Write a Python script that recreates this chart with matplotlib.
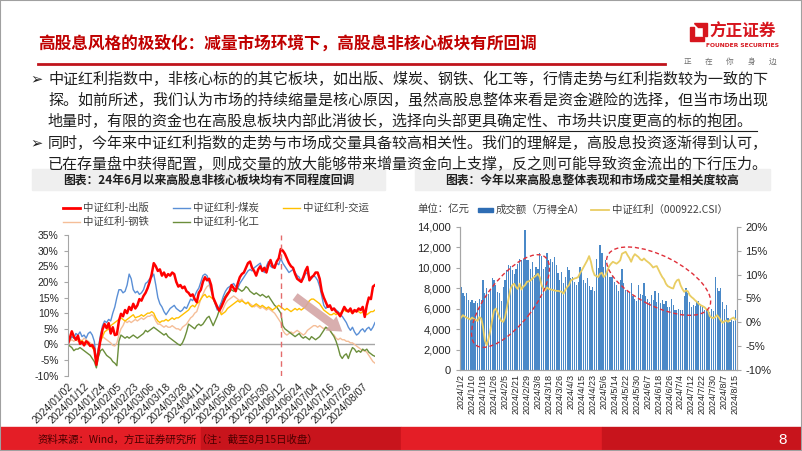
import numpy as np
import pandas as pd
import matplotlib
matplotlib.use('Agg')
import matplotlib.pyplot as plt
from matplotlib.lines import Line2D
from matplotlib.patches import Rectangle, Ellipse, Polygon
from matplotlib.transforms import IdentityTransform
from matplotlib.ticker import FuncFormatter

plt.rcParams['font.family'] = ['Noto Sans CJK SC', 'DejaVu Sans']
plt.rcParams['axes.unicode_minus'] = False

# ---- 数据 ----
holidays = ['2024-01-01', '2024-02-09', '2024-02-12', '2024-02-13', '2024-02-14',
            '2024-02-15', '2024-02-16', '2024-04-04', '2024-04-05', '2024-05-01',
            '2024-05-02', '2024-05-03', '2024-06-10']
days = [d for d in pd.bdate_range('2024-01-02', '2024-08-15')
        if d.strftime('%Y-%m-%d') not in holidays]

sector_names = ['出版', '煤炭', '交运', '钢铁', '化工']

# 中证红利-出版 (%)
publish = [
    0.0, 2.0, 4.2, 2.5, 1.5, 2.8, 0.2, 0.8, -0.3, 1.0,
    0.5, -0.5, -0.2, -1.5, -6.5, -2.5, 1.5, 4.8, 6.5, 5.2,
    6.8, 3.5, 5.5, 3.0, 3.2, 7.5, 9.8, 9.0, 11.0, 10.0,
    12.0, 11.0, 13.0, 11.5, 12.5, 14.5, 14.0, 15.5, 16.5, 18.0,
    20.0, 22.5, 26.0, 25.0, 23.5, 24.0, 22.0, 23.0, 21.5, 22.5,
    22.0, 23.0, 22.5, 20.0, 18.5, 19.0, 18.0, 18.5, 17.0, 16.5,
    15.5, 16.0, 14.5, 13.5, 16.5, 17.5, 20.0, 21.5, 20.5, 21.0,
    19.0, 15.0, 13.5, 12.0, 10.8, 12.0, 13.5, 15.0, 16.0, 17.0,
    19.0, 18.0, 17.0, 19.5, 21.5, 22.5, 23.0, 24.5, 26.0, 26.5,
    24.5, 23.5, 22.0, 24.0, 25.0, 23.5, 24.5, 23.0, 25.5, 27.0,
    25.0, 24.5, 26.5, 27.5, 30.5, 30.0, 29.0, 27.5, 26.0, 25.0,
    24.5, 22.5, 21.0, 20.5, 20.0, 21.5, 23.5, 24.8, 20.5, 21.5,
    22.0, 23.0, 23.0, 21.0, 17.0, 15.0, 13.5, 12.0, 12.5, 11.0,
    11.5, 10.5, 10.0, 9.0, 10.5, 12.0, 11.0, 10.5, 11.5, 10.0,
    11.0, 10.5, 11.5, 11.0, 12.0, 8.8, 12.5, 15.0, 14.5, 18.5,
    19.0]

# 中证红利-煤炭 (%)
coal = [
    0.0, 1.5, 2.5, 2.0, 3.5, 3.0, 4.0, 2.5, 3.0, 2.0,
    3.5, 4.0, 3.0, 1.0, -5.5, -1.0, 3.0, 6.0, 7.5, 7.0,
    8.0, 7.5, 10.0, 12.0, 15.0, 17.5, 17.5, 16.5, 17.0, 19.0,
    22.5, 21.0, 17.5, 16.5, 17.0, 16.0, 16.5, 17.5, 19.5, 20.0,
    21.0, 21.5, 22.5, 19.0, 15.0, 13.0, 12.0, 10.5, 9.5, 10.5,
    11.5, 12.0, 12.5, 11.5, 11.0, 10.5, 11.0, 12.0, 11.5, 13.0,
    14.5, 14.0, 15.5, 17.0, 18.0, 20.0, 22.0, 22.5, 22.0, 20.0,
    17.5, 15.0, 13.0, 11.0, 12.0, 13.5, 15.5, 17.0, 18.0, 18.5,
    19.0, 19.5, 18.5, 18.0, 19.5, 20.5, 21.5, 22.5, 23.5, 24.0,
    23.5, 24.5, 25.0, 25.5, 26.0, 24.0, 23.0, 25.0, 26.5, 25.0,
    24.5, 25.5, 26.0, 25.5, 27.5, 26.0, 25.0, 24.0, 23.0, 23.5,
    24.0, 23.0, 22.0, 21.5, 20.0, 21.0, 22.5, 23.0, 21.0, 21.0,
    22.0, 21.5, 20.5, 18.5, 15.5, 12.5, 11.5, 12.5, 12.0, 11.5,
    11.5, 11.0, 10.5, 9.5, 9.0, 8.0, 7.0, 5.5, 4.5, 5.5,
    4.0, 3.0, 3.5, 4.5, 5.0, 4.0, 5.0, 5.5, 4.5, 5.5,
    7.0]

# 中证红利-交运 (%)
transport = [
    0.0, 1.5, 2.5, 2.0, 1.8, 1.5, 1.0, 1.2, 0.5, 0.8,
    0.0, -0.3, -1.0, -2.0, -5.0, -1.5, 1.0, 2.5, 4.0, 4.5,
    5.0, 6.0, 6.5, 7.0, 7.5, 8.0, 8.5, 8.0, 7.5, 8.0,
    8.5, 9.0, 9.5, 8.5, 8.8, 9.0, 9.5, 9.0, 9.5, 10.0,
    10.0, 10.5, 10.0, 8.5, 7.5, 7.0, 7.5, 7.5, 8.0, 7.5,
    8.0, 8.5, 8.0, 8.5, 8.5, 9.0, 9.5, 10.0, 10.5, 11.0,
    12.0, 12.5, 12.0, 13.0, 13.5, 14.5, 15.5, 16.0, 15.0, 15.5,
    15.0, 14.5, 13.0, 12.0, 11.0, 9.5, 10.0, 10.5, 11.5, 12.0,
    12.5, 13.0, 13.5, 14.0, 13.5, 14.0, 13.5, 13.0, 13.5, 12.5,
    12.0, 12.5, 13.0, 12.5, 12.0, 12.5, 12.0, 11.5, 12.0, 11.5,
    11.0, 11.5, 12.0, 12.5, 12.0, 11.5, 11.0, 11.5, 11.0, 10.5,
    11.0, 11.5, 11.0, 11.5, 11.0, 11.5, 12.0, 13.0, 14.0, 14.5,
    14.5, 14.0, 13.5, 13.0, 12.0, 11.0, 10.5, 10.0, 9.5, 9.5,
    10.0, 9.5, 10.0, 10.0, 10.5, 11.0, 10.5, 11.0, 10.5, 10.0,
    10.5, 11.0, 10.5, 10.0, 10.5, 10.0, 9.5, 10.0, 10.5, 10.5,
    11.0]

# 中证红利-钢铁 (%)
steel = [
    0.0, 1.0, 1.5, 1.0, 1.5, 1.0, 1.5, 1.2, 2.0, 1.5,
    1.0, 0.5, 0.0, -1.5, -6.0, -1.0, 1.0, 2.5, 2.0, 1.5,
    1.0, 0.5, -0.3, -0.5, 0.5, 3.0, 5.0, 6.0, 7.5, 7.0,
    7.5, 7.0, 7.5, 8.0, 7.5, 8.0, 8.5, 8.0, 8.5, 9.0,
    9.0, 9.5, 9.0, 7.5, 6.5, 6.5, 6.0, 5.5, 6.0, 5.5,
    5.5, 6.0, 5.5, 5.0, 5.0, 4.5, 5.5, 6.0, 6.5, 7.5,
    8.5, 9.0, 10.0, 10.5, 12.5, 14.5, 16.0, 17.5, 18.5, 19.0,
    17.0, 15.0, 13.5, 12.0, 10.5, 10.0, 11.5, 13.0, 14.0, 14.5,
    15.0, 15.5, 15.0, 14.5, 14.0, 14.5, 13.5, 13.0, 13.5, 13.0,
    12.5, 12.0, 12.5, 12.0, 11.5, 12.0, 11.5, 11.0, 11.5, 11.0,
    10.5, 10.0, 9.0, 8.0, 7.0, 4.5, 3.5, 3.0, 3.5, 4.0,
    3.5, 4.0, 4.5, 4.0, 3.5, 3.0, 3.5, 4.5, 5.0, 5.5,
    6.0, 6.0, 5.5, 6.0, 5.5, 5.0, 5.5, 5.0, 4.5, 3.5,
    3.0, 2.0, 1.5, 2.0, 1.5, 1.5, 1.0, 1.0, 0.5, 0.5,
    0.0, -0.5, -1.0, -1.5, -2.0, -2.0, -2.5, -3.5, -4.5, -5.5,
    -6.0]

# 中证红利-化工 (%)
chem = [
    0.0, -0.5, -1.0, -2.0, -1.5, -1.5, -1.0, -1.5, -2.0, -2.5,
    -3.0, -3.5, -4.5, -5.5, -7.5, -4.0, -2.0, -1.5, -2.5, -3.5,
    -4.0, -4.5, -5.5, -6.0, -6.8, 1.0, 3.0, 2.5, 2.0, 2.5,
    2.0, 2.5, 3.0, 2.5, 2.0, 2.5, 3.0, 3.5, 4.5, 4.0,
    4.5, 5.0, 5.5, 5.0, 4.5, 4.0, 3.5, 3.0, 3.5, 2.5,
    2.0, 1.5, 1.0, 0.5, 0.0, -0.3, 0.5, 2.0, 4.0, 6.5,
    6.0, 5.5, 5.0, 6.0, 6.5, 6.0, 6.5, 7.5, 8.5, 9.0,
    7.5, 6.0, 7.5, 9.0, 11.0, 13.0, 14.5, 15.5, 16.5, 17.0,
    17.5, 17.0, 17.5, 18.0, 17.5, 17.0, 17.5, 18.5, 18.0, 17.0,
    16.5, 16.0, 16.5, 16.0, 15.5, 16.0, 15.5, 15.0, 15.5, 14.5,
    13.5, 12.5, 12.0, 11.0, 10.0, 6.0, 5.0, 4.5, 4.0, 3.5,
    3.0, 2.5, 3.0, 3.5, 2.5, 2.0, 2.5, 2.0, 1.5, 2.5,
    2.0, 1.5, 2.0, 2.5, 3.5, 4.5, 5.5, 5.0, 4.5, 3.5,
    2.5, 1.0, -1.0, -3.5, -4.5, -3.5, -3.0, -4.5, -2.5, -1.0,
    -1.5, -2.5, -2.0, -2.5, -1.5, -2.0, -1.5, -2.5, -3.0, -3.5,
    -3.8]

# 成交额（万得全A），亿元
turnover = [
    8100, 7500, 7200, 7500, 6900, 6700, 6900, 6600, 6800, 6600,
    7000, 6900, 8800, 7500, 8000, 7400, 7900, 9000, 8800, 8300,
    7600, 7500, 6800, 8100, 8800, 9800, 10300, 10200, 9800, 9400,
    9900, 10400, 10900, 10800, 10900, 13700, 10800, 10800, 9900, 10600,
    9300, 10100, 9900, 11500, 11200, 9900, 10100, 11500, 10800, 10900,
    10600, 11100, 10300, 9500, 8800, 9600, 8500, 9100, 10100, 9800,
    9000, 9100, 8600, 8300, 8600, 10100, 9600, 8800, 8500, 9000,
    8200, 7800, 8100, 7700, 10900, 10000, 12200, 11500, 10100, 10800,
    9800, 9100, 9100, 9200, 8600, 8300, 7700, 8800, 9900, 8500,
    7800, 7700, 7600, 8500, 7200, 7000, 6800, 8300, 7400, 7300,
    8500, 7200, 7000, 6700, 7300, 6900, 7700, 6700, 7500, 6600,
    6900, 6500, 6800, 6200, 6200, 7000, 6400, 5900, 5900, 6000,
    5900, 5900, 7200, 8000, 7500, 6700, 6200, 6400, 6300, 6700,
    6800, 6400, 6200, 5900, 5900, 5900, 5700, 6000, 5800, 9100,
    8000, 7700, 8000, 6700, 6000, 6400, 5100, 4700, 4900, 4800,
    5900]

# 中证红利（000922.CSI）涨跌幅 (%)
csi_div = [
    1.0, 1.5, 1.2, 1.0, 0.8, 0.6, 1.0, 0.7, 0.5, 0.3,
    1.1, 0.8, -1.0, -3.8, -4.8, -3.5, -1.7, 0.5, 2.5, 2.9,
    2.0, 1.0, 0.3, 0.1, 1.0, 3.0, 5.0, 7.0, 7.8, 8.1,
    7.4, 7.0, 8.1, 6.9, 7.5, 7.8, 8.5, 8.6, 8.8, 9.2,
    9.5, 9.8, 10.2, 9.5, 7.8, 7.0, 6.7, 7.3, 7.0, 6.9,
    6.8, 6.7, 6.6, 6.6, 6.5, 6.4, 6.0, 6.8, 7.4, 7.8,
    8.8, 9.0, 9.2, 9.3, 9.5, 10.3, 10.9, 11.6, 12.3, 13.0,
    13.9, 12.7, 10.9, 9.9, 9.7, 9.5, 10.2, 10.4, 9.5, 9.9,
    10.9, 11.8, 12.3, 12.7, 12.5, 12.3, 12.6, 13.0, 14.4, 14.6,
    14.8, 14.1, 13.5, 12.7, 13.7, 14.3, 14.0, 13.7, 13.2, 13.0,
    13.4, 13.0, 12.7, 12.4, 12.0, 11.5, 11.7, 11.8, 11.0, 10.2,
    9.5, 9.0, 8.1, 7.6, 7.4, 7.2, 7.1, 8.2, 8.8, 9.0,
    7.8, 7.0, 6.4, 6.7, 6.5, 5.7, 5.3, 5.0, 4.6, 4.3,
    3.9, 3.6, 3.4, 3.2, 2.8, 2.5, 1.3, 1.0, 0.9, 1.1,
    1.5, 1.0, 0.4, -0.1, 0.2, 0.4, 0.1, 0.5, 0.8, 1.0,
    0.6]

# ---- 画布 ----
W, H = 802, 451
fig = plt.figure(figsize=(W / 100, H / 100), dpi=100)
fig.patch.set_facecolor('white')


def rect(x0, y0, x1, y1):
    return [x0 / W, 1 - y1 / H, (x1 - x0) / W, (y1 - y0) / H]


def T(x, y, s, **kw):
    return fig.text(x / W, 1 - y / H, s, **kw)


NUM = ['Liberation Sans', 'DejaVu Sans']
RED = '#FF0000'
BLUE = '#5A8FD6'
YEL = '#FFC000'
PEACH = '#F5BE98'
GREEN = '#6B8E3B'

# 标题
T(38, 45, '高股息风格的极致化：减量市场环境下，高股息非核心板块有所回调',
  fontsize=12, color='#C00000', fontweight='bold', va='center')
fig.add_artist(Line2D([38 / W, 665 / W], [1 - 64 / H] * 2, color='#C0141C', lw=2))

# logo
fig.add_artist(Polygon([(690 / W, 1 - 27 / H), (694 / W, 1 - 27 / H), (694 / W, 1 - 37 / H),
                        (704 / W, 1 - 37 / H), (704 / W, 1 - 41 / H), (690 / W, 1 - 41 / H)],
                       closed=True, color='#D7161E', transform=fig.transFigure))
fig.add_artist(Polygon([(694 / W, 1 - 23 / H), (707 / W, 1 - 23 / H), (707 / W, 1 - 36 / H),
                        (703 / W, 1 - 36 / H), (703 / W, 1 - 27 / H), (698 / W, 1 - 27 / H)],
                       closed=True, color='#D7161E', transform=fig.transFigure))
T(743, 31.5, '方正证券', fontsize=12, color='#D7161E', fontweight='bold', ha='center', va='center')
T(743, 45.5, 'FOUNDER SECURITIES', fontsize=4.3, color='#D7161E', fontweight='bold',
  ha='center', va='center', family=['DejaVu Sans'])
for i, ch in enumerate('正在你身边'):
    T(687 + i * 21.5, 62, ch, fontsize=5.5, color='#707070', ha='center', va='center')

# 正文
body = ['中证红利指数中，非核心标的的其它板块，如出版、煤炭、钢铁、化工等，行情走势与红利指数较为一致的下',
        '探。如前所述，我们认为市场的持续缩量是核心原因，虽然高股息整体来看是资金避险的选择，但当市场出现',
        '地量时，有限的资金也在高股息板块内部此消彼长，选择向头部更具确定性、市场共识度更高的标的抱团。',
        '同时，今年来中证红利指数的走势与市场成交量具备较高相关性。我们的理解是，高股息投资逐渐得到认可，',
        '已在存量盘中获得配置，则成交量的放大能够带来增量资金向上支撑，反之则可能导致资金流出的下行压力。']
line_y = [79, 100.3, 121.6, 143, 164.3]
for s, y in zip(body, line_y):
    T(48, y, s, fontsize=10.8, color='#1F1F1F', va='center')
for y in (line_y[0], line_y[3]):
    T(30, y, '➢', fontsize=10.5, color='#1F1F1F', va='center', family=['DejaVu Sans'])
fig.add_artist(Line2D([108 / W, 757 / W], [1 - 130.5 / H] * 2, color='#1F1F1F', lw=0.8))

# 图表标题框
for x0, x1, title in [(32, 385, '图表：24年6月以来高股息非核心板块均有不同程度回调'),
                      (415, 770, '图表：今年以来高股息整体表现和市场成交量相关度较高')]:
    fig.add_artist(Rectangle((x0 / W, 1 - 190 / H), (x1 - x0) / W, 21 / H,
                             color='#EFEFEF', transform=fig.transFigure, zorder=0))
    T((x0 + x1) / 2, 180, title, fontsize=8.5, fontweight='bold', color='#1F1F1F',
      ha='center', va='center')

# ---- 左图 ----
x = np.arange(len(days))
axl = fig.add_axes(rect(67.7, 235, 375, 375.7))
series = [(steel, PEACH, 1.0), (chem, GREEN, 1.0), (transport, YEL, 1.0),
          (coal, BLUE, 1.0), (publish, RED, 1.8)]
for vals, color, lw in series:
    axl.plot(x, vals, color=color, lw=lw)
axl.axhline(0, color='#A6A6A6', lw=1, zorder=0)
axl.axvline(104, color='#E46C6C', lw=1, ls=(0, (4, 3)))
axl.annotate('', xy=(134, 4.1), xytext=(111, 15.3),
             arrowprops=dict(arrowstyle='simple,head_width=1.3,head_length=1.0,tail_width=0.6',
                             fc='#D4A5A5', ec='none', mutation_scale=10, alpha=0.9,
                             shrinkA=0, shrinkB=0))
axl.set_xlim(0, 150)
axl.set_ylim(-10, 35)
axl.set_yticks(range(-10, 36, 5))
axl.yaxis.set_major_formatter(FuncFormatter(lambda v, p: f'{v:.0f}%'))
axl.set_xticks(x[::8])
axl.set_xticklabels([d.strftime('%Y/%m/%d') for d in days[::8]], rotation=45,
                    ha='right', va='top', rotation_mode='anchor')
axl.tick_params(axis='x', length=0, pad=4, labelsize=7.5, labelcolor='#262626')
axl.tick_params(axis='y', length=3, width=0.8, color='#A6A6A6', labelsize=7.5, labelcolor='#262626')
for s in ('top', 'right', 'bottom'):
    axl.spines[s].set_visible(False)
axl.spines['left'].set_color('#A6A6A6')
for lab in axl.get_xticklabels() + axl.get_yticklabels():
    lab.set_fontfamily(NUM)

leg_pos = [(63, 207.7), (173, 207.7), (283, 207.7), (63, 222), (173, 222)]
leg_style = [(RED, 2.0), (BLUE, 1.0), (YEL, 1.0), (PEACH, 1.0), (GREEN, 1.0)]
for (lx, ly), (c, lw), name in zip(leg_pos, leg_style, sector_names):
    fig.add_artist(Line2D([lx / W, (lx + 17) / W], [1 - ly / H] * 2, color=c, lw=lw))
    T(lx + 20, ly, '中证红利-' + name, fontsize=7.5, color='#404040', va='center')

# ---- 右图 ----
axb = fig.add_axes(rect(460, 227, 736.5, 370))
axb.bar(x, turnover, width=0.66, color='#4A89C8', zorder=1)
axb.set_xlim(-0.6, 150.6)
axb.set_ylim(0, 14000)
axb.set_yticks(range(0, 14001, 2000))
axb.yaxis.set_major_formatter(FuncFormatter(lambda v, p: f'{v:,.0f}'))
axb.set_xticks(x[::6])
axb.set_xticklabels([f'{d.year}/{d.month}/{d.day}' for d in days[::6]], rotation=90,
                    ha='center', va='top')
axb.tick_params(axis='x', length=0, pad=3, labelsize=6.5, labelcolor='#262626')
axb.tick_params(axis='y', length=3, width=0.8, color='#A6A6A6', labelsize=8, labelcolor='#262626')

axr = axb.twinx()
axr.plot(x, csi_div, color='#E9CD63', lw=1.3)
axr.set_ylim(-10, 20)
axr.set_yticks(range(-10, 21, 5))
axr.yaxis.set_major_formatter(FuncFormatter(lambda v, p: f'{v:.0f}%'))
axr.tick_params(axis='y', length=3, width=0.8, color='#A6A6A6', labelsize=8, labelcolor='#262626')
for a in (axb, axr):
    a.spines['top'].set_visible(False)
    for s in ('left', 'right', 'bottom'):
        a.spines[s].set_color('#A6A6A6')
for lab in axb.get_xticklabels() + axb.get_yticklabels() + axr.get_yticklabels():
    lab.set_fontfamily(NUM)

# 虚线椭圆
for (cx, cy), w, h, ang in [((27, 6750), 112, 46, 52), ((108, 8700), 114, 50, -27)]:
    px, py = axb.transData.transform((cx, cy))
    fig.add_artist(Ellipse((px, py), w, h, angle=ang, fill=False, edgecolor='#E0303A',
                           lw=1.0, ls=(0, (3, 2)), transform=IdentityTransform()))

T(417, 210, '单位：亿元', fontsize=7.5, color='#404040', va='center')
fig.add_artist(Rectangle((478 / W, 1 - 212 / H), 15 / W, 4 / H, color='#2E6DB4',
                         transform=fig.transFigure))
T(496, 210, '成交额（万得全A）', fontsize=7.5, color='#404040', va='center')
fig.add_artist(Line2D([591 / W, 609 / W], [1 - 210 / H] * 2, color='#E9CD63', lw=1.3))
T(612, 210, '中证红利（000922.CSI）', fontsize=7.5, color='#404040', va='center')

# ---- 页脚 ----
for i, c in enumerate(['#E41E26', '#C8141C', '#E41E26', '#C8141C']):
    fig.add_artist(Rectangle((i * 0.25, 0), 0.25, 24 / H, color=c,
                             transform=fig.transFigure, zorder=0))
T(38, 440, '资料来源：Wind，方正证券研究所（注：截至8月15日收盘）', fontsize=7.5,
  color='#4A0000', va='center', style='italic')
T(783, 440, '8', fontsize=11, color='white', ha='center', va='center', family=NUM)

fig.add_artist(Rectangle((0, 0), 1, 1, fill=False, edgecolor='#A0A0A0', lw=1.5,
                         transform=fig.transFigure))

fig.savefig('out.png', dpi=100)
